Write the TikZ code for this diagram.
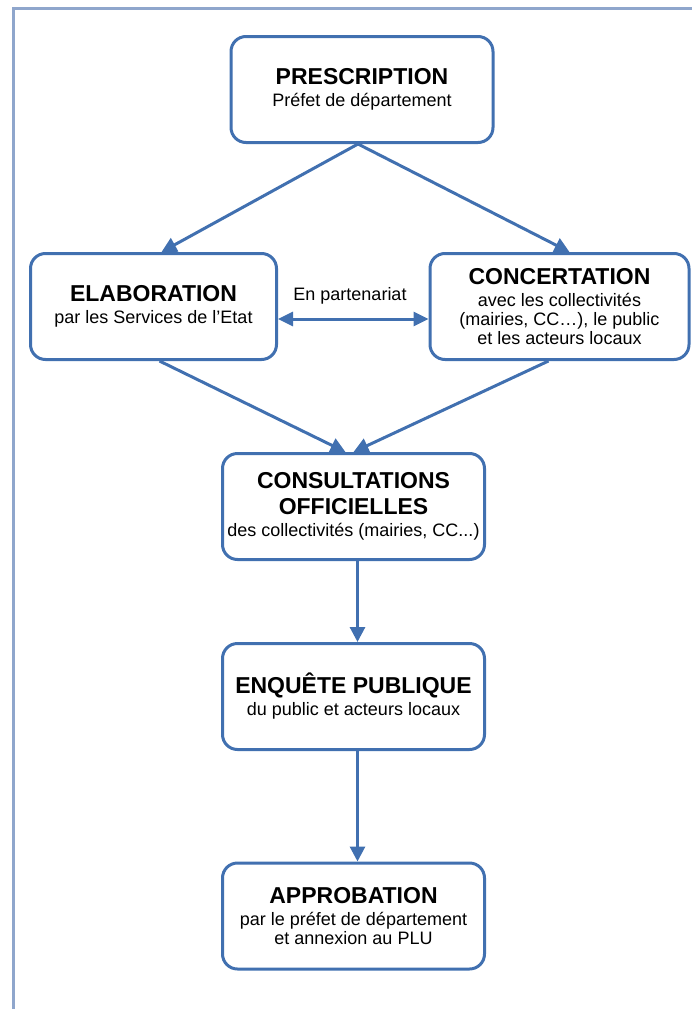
\documentclass[tikz,border=0pt]{standalone}
\usepackage{fontspec}
\setmainfont{Liberation Sans}
\usetikzlibrary{arrows.meta}
\definecolor{boxblue}{RGB}{65,112,176}
\definecolor{framecol}{RGB}{143,166,204}
\newcommand\titf{\fontsize{23}{26}\bfseries\selectfont}
\newcommand\subf{\fontsize{18}{19}\selectfont}
\tikzset{
  stepbox/.style={draw=boxblue, line width=3pt, rounded corners=15pt, fill=white,
    align=center, inner sep=0pt, font=\subf, text=black},
  flow/.style={draw=boxblue, line width=3pt, -{Triangle[length=15pt,width=15pt]}},
  flowboth/.style={draw=boxblue, line width=3pt, {Triangle[length=15pt,width=14pt]}-{Triangle[length=15pt,width=14pt]}},
}
\begin{document}
\begin{tikzpicture}[x=1pt,y=-1pt]
\useasboundingbox (0,0) rectangle (691,1009);
% page frame
\draw[framecol, line width=3pt] (13,1012) -- (13,8) -- (694,8);

\node[stepbox, minimum width=262pt, minimum height=106pt] (pre) at (362,89.5)
  {{\titf PRESCRIPTION}\\[3pt]Préfet de département};
\node[stepbox, minimum width=246pt, minimum height=106pt] (elab) at (153.5,306.5)
  {{\titf ELABORATION}\\[3pt]par les Services de l’Etat};
\node[stepbox, minimum width=259pt, minimum height=106pt] (conc) at (559.5,306.5)
  {{\titf CONCERTATION}\\[3pt]avec les collectivités\\(mairies, CC…), le public\\et les acteurs locaux};
\node[stepbox, minimum width=262pt, minimum height=106pt] (cons) at (353.5,506.5)
  {{\titf CONSULTATIONS}\\[7pt]{\titf OFFICIELLES}\\[3pt]des collectivités (mairies, CC...)};
\node[stepbox, minimum width=262pt, minimum height=106pt] (enq) at (353.5,696.5)
  {{\titf ENQUÊTE PUBLIQUE}\\[3pt]du public et acteurs locaux};
\node[stepbox, minimum width=262pt, minimum height=106pt] (appr) at (353.5,916)
  {{\titf APPROBATION}\\[3pt]par le préfet de département\\et annexion au PLU};

% connectors
\draw[flow] ([xshift=-4pt]pre.south) -- ([xshift=8pt]elab.north);
\draw[flow] ([xshift=-4pt]pre.south) -- ([xshift=10pt]conc.north);
\draw[flow] ([xshift=6pt]elab.south) -- ([xshift=-8pt]cons.north);
\draw[flow] ([xshift=-11pt]conc.south) -- ([xshift=0pt]cons.north);
\draw[flow] ([xshift=4pt]cons.south) -- ([xshift=4pt]enq.north);
\draw[flow] ([xshift=4pt]enq.south) -- ([xshift=4pt]appr.north);

\coordinate (pline) at (353,319);
\draw[flowboth] (elab.east |- pline) -- (conc.west |- pline);
\node[font=\subf, anchor=base, inner sep=0pt] (part) at (350,300.5) {En partenariat};
\end{tikzpicture}
\end{document}
